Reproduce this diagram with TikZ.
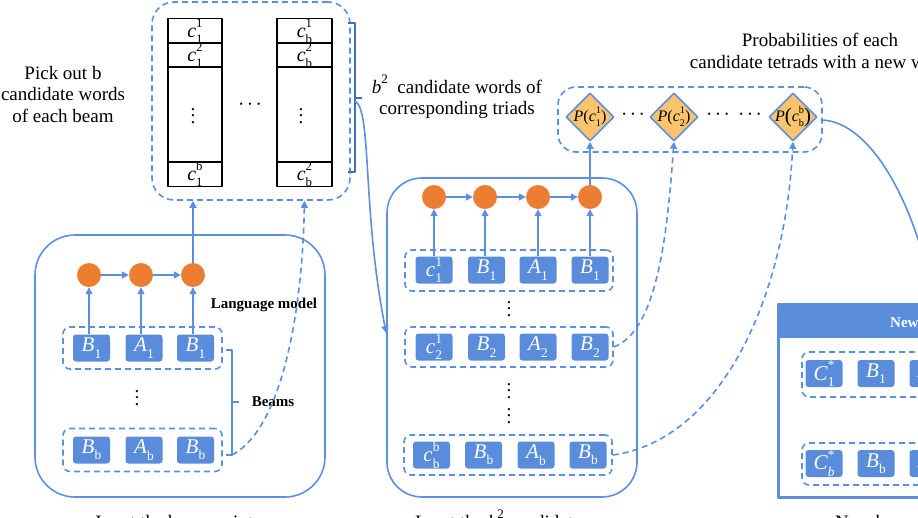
\documentclass[tikz,border=0pt]{standalone}
\usepackage{fontspec}
\setmainfont{Liberation Serif}
\usetikzlibrary{shapes.geometric,arrows.meta}
\definecolor{lblue}{HTML}{5B8FDF}
\definecolor{bfill}{HTML}{5A8CDC}
\definecolor{dblue}{HTML}{3F6FC0}
\definecolor{orng}{HTML}{ED7D31}
\definecolor{gold}{HTML}{F9C46C}
\makeatletter
\newcommand\ssz{\fontsize{\fpeval{0.64*\f@size}}{0}\selectfont}
\newcommand\bigpar[1]{\raisebox{-0.08em}{\fontsize{\fpeval{1.3*\f@size}}{0}\selectfont #1}}
\makeatother
% base, superscript, subscript
\newcommand\ms[3]{\textit{#1}\rlap{\raisebox{0.5em}{\ssz #2}}\raisebox{-0.3em}{\ssz #3}}
% base, subscript
\newcommand\mb[2]{\textit{#1}\raisebox{-0.3em}{\ssz #2}}
\newcommand\vdts{\vbox{\offinterlineskip\hbox{.}\kern4pt\hbox{.}\kern4pt\hbox{.}}}
\newcommand\hdts{\textperiodcentered\kern2.5pt\textperiodcentered\kern2.5pt\textperiodcentered}
\newcommand\fmain{\fontsize{19}{21.5}\selectfont}
\newcommand\fbold{\fontsize{15}{18}\selectfont\bfseries}
\newcommand\fmth{\fontsize{21}{24}\selectfont}
\newcommand\fcell{\fontsize{20}{22}\selectfont}
\newcommand\fvd{\fontsize{19}{20}\selectfont}
\newcommand\fdia{\fontsize{16}{18}\selectfont}
\begin{document}
\begin{tikzpicture}[x=1pt,y=-1pt,line join=round,
  ln/.style={draw=lblue,line width=1.6pt},
  arr/.style={ln,-{Triangle[length=7pt,width=7pt]}},
  darr/.style={arr,dash pattern=on 6pt off 4pt},
  rowbox/.style={draw=lblue,line width=1.6pt,dash pattern=on 6pt off 4pt,rounded corners=7pt,inner sep=0},
  bigbox/.style={draw=lblue,line width=1.6pt,inner sep=0},
  tok/.style={fill=bfill,rounded corners=3pt,minimum width=37pt,minimum height=27pt,inner sep=0,text=white,font=\fmth},
  odot/.style={circle,fill=orng,minimum size=24pt,inner sep=0},
  cell/.style={draw=black,line width=1.2pt,minimum width=54pt,inner sep=0,font=\fcell},
  pdiam/.style={diamond,draw=lblue,line width=1.6pt,fill=gold,minimum width=48pt,minimum height=48pt,inner sep=0},
  txt/.style={font=\fmain,align=center,inner sep=0},
  btxt/.style={font=\fbold,inner sep=0},
  vd/.style={font=\fvd,inner sep=0}]
\useasboundingbox (0,0) rectangle (918,517);

% ---------- top candidate box ----------
\node[rowbox,rounded corners=22pt,minimum width=198pt,minimum height=198pt] (cand) at (251,101) {};
\node[cell,minimum height=24pt] (a1) at (195,31) {\ms{c}{1}{1}};
\node[cell,minimum height=24pt] (a2) at (195,55) {\ms{c}{2}{1}};
\node[cell,minimum height=95pt] (a3) at (195,114.5) {};
\node[vd] (a3d) at (193,116) {\vdts};
\node[cell,minimum height=24pt] (a4) at (195,174) {\ms{c}{b}{1}};
\node[cell,minimum height=24pt,minimum width=55pt] (b1) at (304.5,31) {\ms{c}{1}{b}};
\node[cell,minimum height=24pt,minimum width=55pt] (b2) at (304.5,55) {\ms{c}{2}{b}};
\node[cell,minimum height=95pt,minimum width=55pt] (b3) at (304.5,114.5) {};
\node[vd] (b3d) at (301,116) {\vdts};
\node[cell,minimum height=24pt,minimum width=55pt] (b4) at (304.5,174) {\ms{c}{2}{b}};
\node[vd] (hd) at (250,107) {\hdts};
\node[txt] (pick) at (63,94) {Pick out b\\candidate words\\of each beam};

% brace
\coordinate (brt) at (348,23);
\coordinate (brb) at (348,172);
\coordinate (brm) at (355,98);
\draw[draw=dblue,line width=1.2pt] (brt) -- ++(7,0) -- ++(0,149) -- (brb);
\draw[draw=dblue,line width=1.2pt] (brm) -- ++(7,0);
\node[txt] (b2lab) at (457,97) {\textit{b}\raisebox{0.5em}{\fontsize{13}{0}\selectfont 2}\ \ candidate words of\\corresponding triads};

% ---------- left LM box ----------
\node[bigbox,rounded corners=40pt,minimum width=290pt,minimum height=262pt] (lm1) at (180,366) {};
\node[odot] (l1) at (89,275) {};
\node[odot] (l2) at (141,275) {};
\node[odot] (l3) at (193,275) {};
\node[rowbox,minimum width=159pt,minimum height=42pt] (lr1) at (142.5,348) {};
\node[tok] (t11) at (91.5,348) {\mb{B}{1}};
\node[tok] (t12) at (144,348) {\mb{A}{1}};
\node[tok] (t13) at (195.5,348) {\mb{B}{1}};
\node[vd] (lv) at (137,398) {\vdts};
\node[rowbox,minimum width=159pt,minimum height=43pt] (lr2) at (142.5,450) {};
\node[tok] (t21) at (91.5,450) {\mb{B}{b}};
\node[tok] (t22) at (144,450) {\mb{A}{b}};
\node[tok] (t23) at (195.5,450) {\mb{B}{b}};
\draw[arr] (l1 |- t11.north) -- (l1.south);
\draw[arr] (l2 |- t12.north) -- (l2.south);
\draw[arr] (l3 |- t13.north) -- (l3.south);
\draw[arr] (l1.east) -- (l2.west);
\draw[arr] (l2.east) -- (l3.west);
\node[btxt] (lmlab) at (264,305) {Language model};
\coordinate (bk1) at (226,350);
\coordinate (bk2) at (226,455);
\coordinate (bkm) at (232,402);
\draw[ln,line width=1.3pt] (bk1) -- ++(6,0) -- ++(0,105) -- (bk2);
\draw[ln,line width=1.3pt] (bkm) -- ++(7,0);
\node[btxt] (beams) at (273,402) {Beams};
\draw[arr] (l3.north) -- (l3 |- cand.south);
\coordinate (bkb) at (232,455);
\draw[darr] (bkb) .. controls (280,430) and (302,320) .. (b4 |- cand.south);
\node[txt,anchor=base] (cap1) at (178,528) {Input the beam points};

% ---------- middle box ----------
\node[bigbox,rounded corners=35pt,minimum width=250pt,minimum height=319pt] (mid) at (512,337.5) {};
\node[odot] (m1) at (434,197) {};
\node[odot] (m2) at (485,197) {};
\node[odot] (m3) at (538,197) {};
\node[odot] (m4) at (590,197) {};
\draw[arr] (m1.east) -- (m2.west);
\draw[arr] (m2.east) -- (m3.west);
\draw[arr] (m3.east) -- (m4.west);
\node[rowbox,minimum width=208pt,minimum height=41pt] (mr1) at (509,270.5) {};
\node[tok] (u11) at (434,270) {\ms{c}{1}{1}};
\node[tok] (u12) at (486.5,270) {\mb{B}{1}};
\node[tok] (u13) at (538,270) {\mb{A}{1}};
\node[tok] (u14) at (590,270) {\mb{B}{1}};
\draw[arr] (m1 |- u11.north) -- (m1.south);
\draw[arr] (m2 |- u12.north) -- (m2.south);
\draw[arr] (m3 |- u13.north) -- (m3.south);
\draw[arr] (m4 |- u14.north) -- (m4.south);
\node[vd] (mv1) at (509,309) {\vdts};
\node[rowbox,minimum width=208pt,minimum height=40pt] (mr2) at (509,347) {};
\node[tok] (u21) at (434,347) {\ms{c}{1}{2}};
\node[tok] (u22) at (486.5,347) {\mb{B}{2}};
\node[tok] (u23) at (538,347) {\mb{A}{2}};
\node[tok] (u24) at (590,347) {\mb{B}{2}};
\node[vd] (mv2) at (509,391) {\vdts};
\node[vd] (mv3) at (509,416) {\vdts};
\node[rowbox,minimum width=208pt,minimum height=40pt] (mr3) at (508,455) {};
\node[tok] (u31) at (431.5,455) {\ms{c}{b}{b}};
\node[tok] (u32) at (483.5,455) {\mb{B}{b}};
\node[tok] (u33) at (536,455) {\mb{A}{b}};
\node[tok] (u34) at (588,455) {\mb{B}{b}};
\coordinate (bin) at (355,101);
\draw[arr] (bin) .. controls (372,110) and (362,210) .. (mid.west |- 0,333);
\node[txt,anchor=base] (cap2) at (502,528) {Input the \textit{b}\raisebox{0.5em}{\fontsize{13}{0}\selectfont 2} candidates};

% ---------- probabilities ----------
\node[rowbox,rounded corners=18pt,minimum width=264pt,minimum height=65pt] (prob) at (690,119.5) {};
\node[pdiam] (d1) at (590,117) {};
\node[pdiam] (d2) at (674,117) {};
\node[pdiam] (d3) at (793,117) {};
\node[font=\fdia,inner sep=0] (d1t) at (d1) {\textit{P}(\ms{c}{1}{1})};
\node[font=\fdia,inner sep=0] (d2t) at (d2) {\textit{P}(\ms{c}{1}{2})};
\node[font=\fdia,inner sep=0] (d3t) at (d3) {\textit{P}\bigpar{(}\ms{c}{b}{b}\bigpar{)}};
\node[vd] (pd1) at (633,117) {\hdts};
\node[vd] (pd2) at (718,117) {\hdts};
\node[vd] (pd3) at (750,117) {\hdts};
\node[txt] (problab) at (820,51) {Probabilities of each\\candidate tetrads with a new word};
\draw[arr] (m4.north) -- (d1.south);
\draw[darr] (mr2.east) .. controls (660,330) and (668,220) .. (d2.south);
\draw[darr] (mr3.east) .. controls (720,440) and (785,300) .. (d3.south);
\coordinate (pout) at (822,120);
\coordinate (nbtop) at (935,305);
\draw[ln] (pout) .. controls (870,122) and (915,200) .. (nbtop);

% ---------- new beams ----------
\node[bigbox,fill=white,minimum width=281pt,minimum height=192pt] (nb) at (919.5,401) {};
\node[fill=bfill,minimum width=281pt,minimum height=33pt,inner sep=0] (nbh) at (919.5,321.5) {};
\draw[ln] (nb.north west) rectangle (nb.south east);
\node[btxt,text=white,anchor=west] (nbl) at (890,322) {New beams};
\node[rowbox,minimum width=240pt,minimum height=45pt] (nr1) at (922,374.5) {};
\node[tok] (n11) at (824,373.5) {\ms{C}{*}{1}};
\node[tok] (n12) at (876,373.5) {\mb{B}{1}};
\node[tok] (n13) at (928,373.5) {\mb{A}{1}};
\node[rowbox,minimum width=240pt,minimum height=42pt] (nr2) at (922,464) {};
\node[tok] (n21) at (824,463.5) {\ms{C}{*}{\textit{b}}};
\node[tok] (n22) at (876,463.5) {\mb{B}{b}};
\node[tok] (n23) at (928,463.5) {\mb{A}{b}};
\node[txt,anchor=base west] (cap3) at (835,528) {New beams};
\end{tikzpicture}
\end{document}
